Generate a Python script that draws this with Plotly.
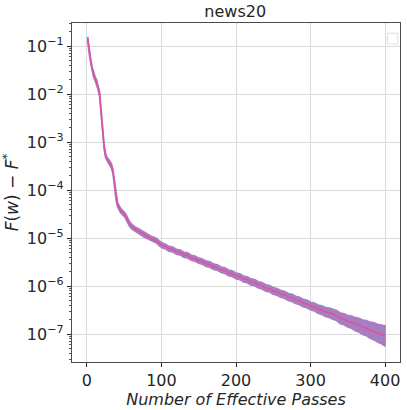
import plotly.graph_objects as go

# Effective passes (x) and log10 of mean suboptimality
passes = [1, 3, 5, 7, 9, 11, 13, 15, 17, 19, 21, 23, 25, 27, 30, 33, 35, 37, 39, 41,
          43, 45, 48, 51, 54, 57, 60, 63, 66, 70, 74, 78, 82, 86, 90, 94, 98, 102,
          105, 110, 115, 120, 125, 130, 135, 140, 145, 150, 155, 160, 165, 170, 175, 180,
          185, 190, 195, 200, 205, 210, 215, 220, 225, 230, 235, 240, 245, 250, 255, 260,
          265, 270, 275, 280, 285, 290, 295, 300, 305, 310, 315, 320, 325, 330, 335, 340,
          345, 350, 355, 360, 365, 370, 375, 380, 385, 390, 395, 400]

gap_log10 = [-0.84, -1.12, -1.30, -1.48, -1.60, -1.68, -1.75, -1.86, -2.00, -2.35,
             -2.75, -3.08, -3.28, -3.36, -3.42, -3.50, -3.62, -3.85, -4.15, -4.30,
             -4.36, -4.42, -4.47, -4.52, -4.60, -4.70, -4.76, -4.80, -4.83, -4.86,
             -4.90, -4.94, -4.98, -5.01, -5.03, -5.06, -5.12, -5.16,
             -5.170, -5.222, -5.236, -5.284, -5.298, -5.345, -5.360, -5.408, -5.425, -5.470,
             -5.488, -5.534, -5.550, -5.598, -5.614, -5.660, -5.676, -5.724, -5.740, -5.786,
             -5.804, -5.850, -5.866, -5.912, -5.928, -5.975, -5.992, -6.038, -6.055, -6.100,
             -6.118, -6.162, -6.180, -6.226, -6.244, -6.288, -6.306, -6.352, -6.370, -6.414,
             -6.432, -6.478, -6.498, -6.540, -6.556, -6.590, -6.612, -6.672, -6.690, -6.730,
             -6.750, -6.792, -6.814, -6.856, -6.875, -6.918, -6.940, -6.980, -7.002, -7.040]

# half-width of the shaded spread, in decades
spread_log10 = [0.030, 0.040, 0.045, 0.045, 0.045, 0.045, 0.045, 0.045, 0.045, 0.045,
                0.045, 0.045, 0.045, 0.045, 0.045, 0.045, 0.045, 0.045, 0.045, 0.045,
                0.045, 0.045, 0.046, 0.047, 0.048, 0.049, 0.050, 0.050, 0.050, 0.050,
                0.050, 0.050, 0.050, 0.050, 0.050, 0.050, 0.050, 0.050,
                0.050, 0.050, 0.051, 0.051, 0.052, 0.052, 0.053, 0.053, 0.054, 0.054,
                0.055, 0.055, 0.056, 0.056, 0.057, 0.058, 0.058, 0.059, 0.060, 0.060,
                0.061, 0.062, 0.063, 0.064, 0.065, 0.066, 0.067, 0.068, 0.069, 0.070,
                0.071, 0.072, 0.073, 0.074, 0.075, 0.076, 0.077, 0.078, 0.079, 0.080,
                0.083, 0.086, 0.090, 0.094, 0.098, 0.102, 0.106, 0.110, 0.115, 0.120,
                0.128, 0.136, 0.144, 0.152, 0.160, 0.168, 0.176, 0.186, 0.196, 0.210]

x_ticks = [0, 100, 200, 300, 400]
y_exps = [-1, -2, -3, -4, -5, -6, -7]

mean = [10 ** g for g in gap_log10]
upper = [10 ** (g + s) for g, s in zip(gap_log10, spread_log10)]
lower = [10 ** (g - s) for g, s in zip(gap_log10, spread_log10)]

FONT = "DejaVu Sans, sans-serif"
INK = "#262626"
BAND = "#a67fc1"

fig = go.Figure()
fig.add_trace(go.Scatter(x=passes + passes[::-1], y=upper + lower[::-1],
                         fill="toself", fillcolor=BAND,
                         line=dict(color=BAND, width=1.6), hoverinfo="skip"))
fig.add_trace(go.Scatter(x=passes, y=mean, mode="lines",
                         line=dict(color="#e0509f", width=1.5)))

minor_vals = [m * 10 ** e for e in range(-8, 0) for m in range(2, 10)]

fig.update_layout(
    width=407, height=410,
    margin=dict(l=72, r=7, t=23, b=48),
    paper_bgcolor="white", plot_bgcolor="white",
    showlegend=False,
    font=dict(family=FONT, color=INK, size=16),
    title=dict(text="news20", x=0.578, xanchor="center", y=0.972, yanchor="middle",
               font=dict(size=16, color=INK)),
)
fig.update_xaxes(range=[-20, 420], tickvals=x_ticks, ticks="outside", ticklen=4,
                 tickcolor=INK, showgrid=True, gridcolor="#dadada", gridwidth=1,
                 zeroline=False, showline=True, linecolor="#4a4a4a", linewidth=1.2,
                 mirror=True, tickfont=dict(size=16),
                 title=dict(text="<i>Number of Effective Passes</i>", font=dict(size=16),
                            standoff=1))
fig.update_yaxes(type="log", range=[-7.58, -0.52],
                 tickvals=[10 ** e for e in y_exps],
                 ticktext=[f"10<sup>\u2212{-e}</sup>" for e in y_exps],
                 ticks="outside", ticklen=4, tickcolor=INK,
                 minor=dict(tickvals=minor_vals, ticks="outside", ticklen=2,
                            tickcolor="#555555", showgrid=False),
                 showgrid=True, gridcolor="#dadada", gridwidth=1,
                 zeroline=False, showline=True, linecolor="#4a4a4a", linewidth=1.2,
                 mirror=True, tickfont=dict(size=16),
                 title=dict(text="<i>F</i>(<i>w</i>) \u2212 <i>F</i><sup>*</sup>",
                            font=dict(size=17), standoff=4))

# empty legend frame in the upper-right corner
fig.add_shape(type="rect", xref="paper", yref="paper",
              x0=0.962, x1=0.993, y0=0.938, y1=0.97,
              line=dict(color="#dddddd", width=1), fillcolor="white")

fig.write_html("out.html", config={"displayModeBar": False},
               post_script="document.body.style.margin='0';")
